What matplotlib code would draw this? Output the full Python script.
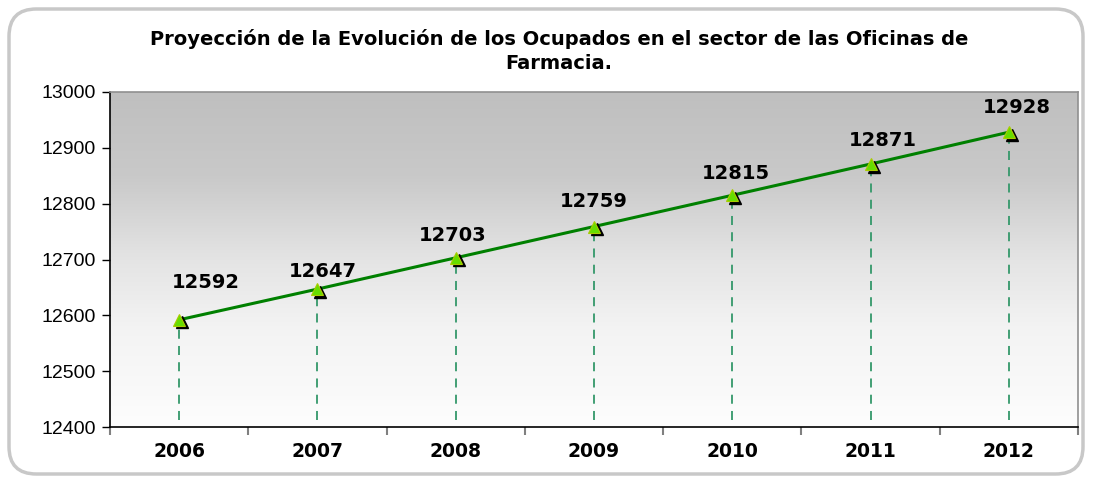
import matplotlib
matplotlib.use("Agg")
import matplotlib.pyplot as plt
import numpy as np
from matplotlib.patches import FancyBboxPatch
from matplotlib.transforms import offset_copy
from matplotlib.colors import LinearSegmentedColormap

years = ["2006", "2007", "2008", "2009", "2010", "2011", "2012"]
values = [12592, 12647, 12703, 12759, 12815, 12871, 12928]
yticks = [12400, 12500, 12600, 12700, 12800, 12900, 13000]
title_lines = ["Proyección de la Evolución de los Ocupados en el sector de las Oficinas de",
               "Farmacia."]
# label offsets in pixels (dx, dy) as placed in the original
label_offsets = [(27, 37), (5, 18), (-3, 22), (0, 25), (4, 22), (12, 24), (8, 25)]

W, H = 1093, 482
fig = plt.figure(figsize=(W / 100, H / 100), dpi=100)
fig.patch.set_facecolor("white")

# rounded border
border = FancyBboxPatch((9 / W, 8 / H), 1 - 19 / W, 1 - 17 / H,
                        boxstyle="round,pad=0,rounding_size=0.025",
                        transform=fig.transFigure, facecolor="none",
                        edgecolor="#c8c8c8", linewidth=2.5, mutation_aspect=W / H)
fig.patches.append(border)

ax = fig.add_axes([110 / W, 1 - 427 / H, 968 / W, 335 / H])
x = np.arange(len(years))
ax.set_xlim(-0.5, len(years) - 0.5)
ax.set_ylim(yticks[0], yticks[-1])

# gradient background
grad = np.linspace(0, 1, 256).reshape(-1, 1)
cmap = LinearSegmentedColormap.from_list(
    "g", [(0.0, "#fdfdfd"), (0.3, "#f3f3f3"), (0.5, "#e4e4e4"),
          (0.75, "#c9c9c9"), (1.0, "#bfbfbf")])
ax.imshow(grad, aspect="auto", cmap=cmap, origin="lower",
          extent=[-0.5, len(years) - 0.5, yticks[0], yticks[-1]], zorder=0)

# drop lines
for xi, v in zip(x, values):
    ax.plot([xi, xi], [yticks[0] + 12, v], color="#34986a", lw=1.3,
            linestyle=(0, (5, 4)), zorder=2)

ax.plot(x, values, color="#008000", lw=2.2, zorder=3)
shadow = offset_copy(ax.transData, fig=fig, x=3, y=-2.5, units="dots")
ax.plot(x, values, linestyle="none", marker="^", ms=9, color="black",
        transform=shadow, zorder=4)
ax.plot(x, values, linestyle="none", marker="^", ms=9, markerfacecolor="#66dd00",
        markeredgecolor="#aacc00", markeredgewidth=0.8, zorder=5)

for xi, v, (dx, dy) in zip(x, values, label_offsets):
    ax.annotate(str(v), (xi, v), xytext=(dx, dy), textcoords="offset pixels",
                ha="center", va="center", fontsize=14, fontweight="bold",
                family="DejaVu Sans", zorder=6)

ax.set_yticks(yticks)
ax.set_yticklabels([str(t) for t in yticks], fontsize=14, family="Liberation Sans")
ax.tick_params(axis="y", direction="out", length=6, width=1, color="black", pad=4)

ax.set_xticks(x)
ax.set_xticklabels(years, fontsize=13.5, fontweight="bold", family="DejaVu Sans")
ax.tick_params(axis="x", which="major", length=0, pad=11)
ax.set_xticks(np.arange(-0.5, len(years), 1), minor=True)
ax.tick_params(axis="x", which="minor", direction="out", length=6, width=1.5, color="#808080")

for s in ["top", "right"]:
    ax.spines[s].set_color("#909090")
    ax.spines[s].set_linewidth(1.2)
for s in ["left", "bottom"]:
    ax.spines[s].set_color("black")
    ax.spines[s].set_linewidth(1.2)

for i, line in enumerate(title_lines):
    fig.text(559 / W, 1 - (45 + 24 * i) / H, line, ha="center", va="baseline",
             fontsize=14, fontweight="bold", family="DejaVu Sans")

fig.savefig("out.png", dpi=100)
